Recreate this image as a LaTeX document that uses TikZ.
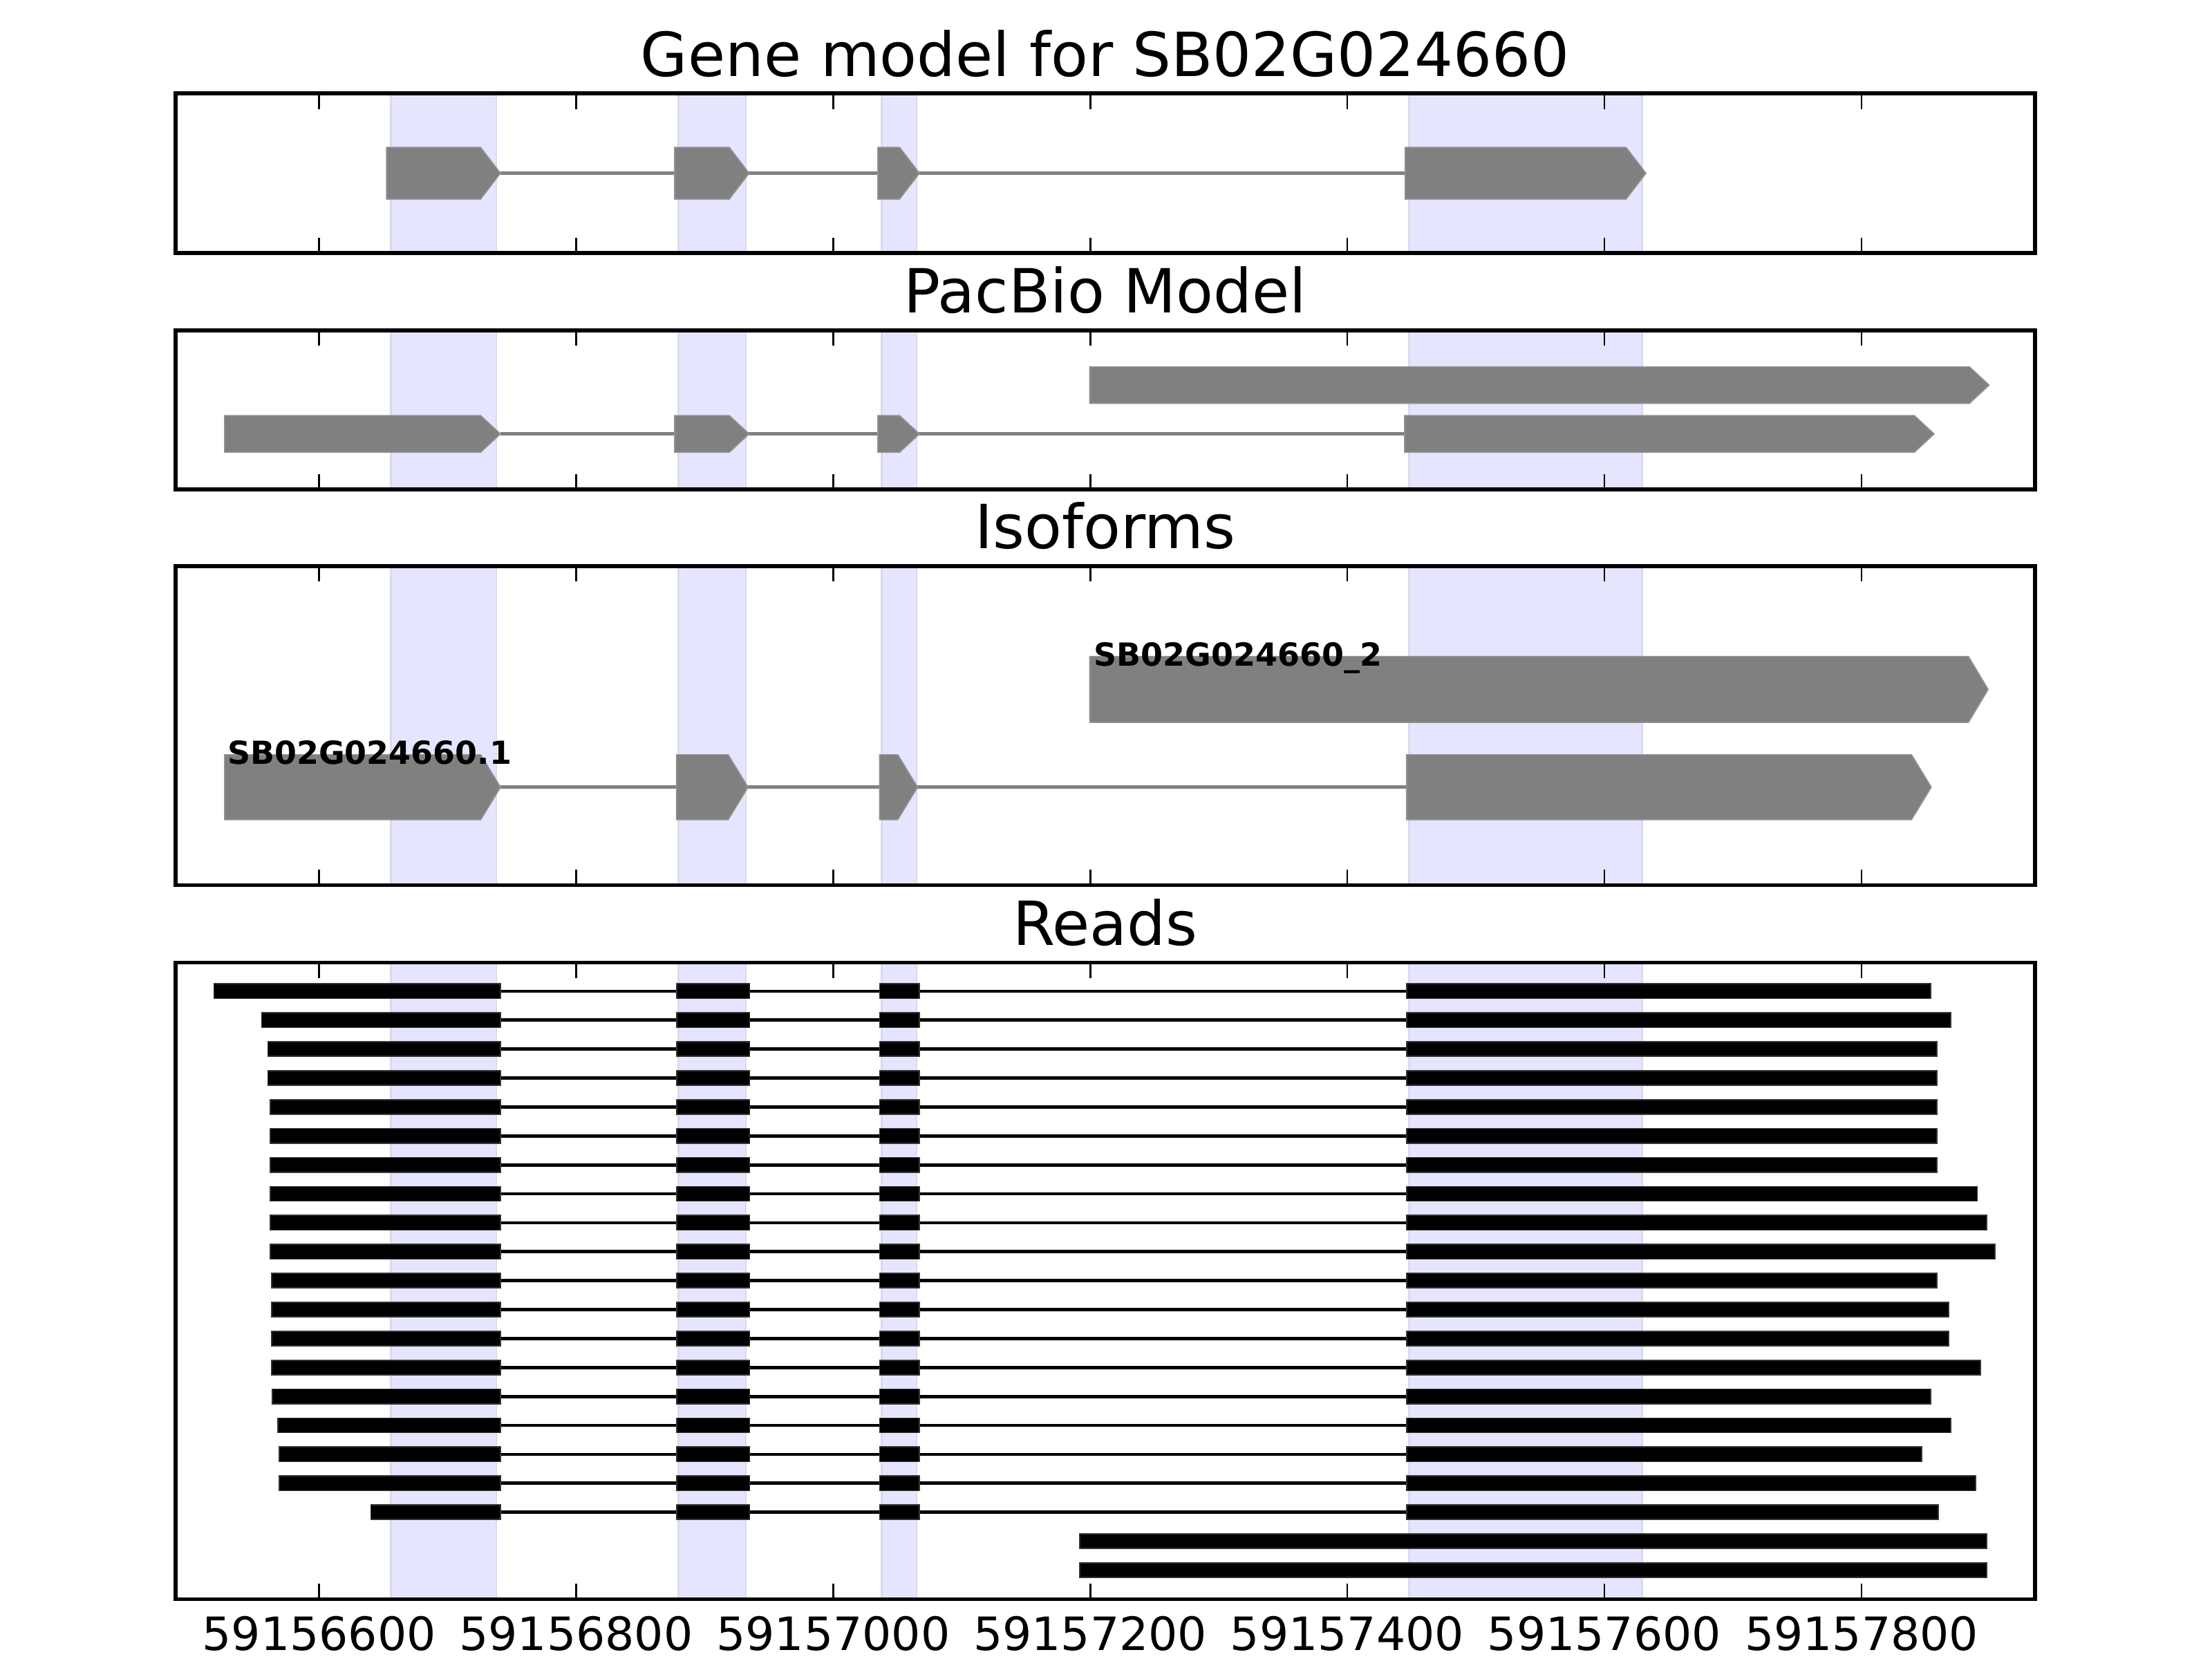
\documentclass[tikz,border=0pt]{standalone}
\usepackage{fontspec}
\setmainfont{DejaVu Sans}
\definecolor{shadefill}{RGB}{229,229,255}
\definecolor{shadeedge}{RGB}{218,218,234}
\definecolor{exongray}{RGB}{128,128,128}
\newcommand\pent[4]{%
  \fill[exonfill] (#1,#3-#4) -- (#2-14,#3-#4) -- (#2,#3) -- (#2-14,#3+#4) -- (#1,#3+#4) -- cycle;}
\newcommand\shadeax[2]{%
  \foreach \a/\b in {277.1/351.8, 481/528.7, 624.8/649.7, 998.7/1163.8}{%
    \fill[shadefill] (\a,#1) rectangle (\b,#2);
    \draw[shadeedgestyle] (\a,#1) -- (\a,#2) (\b,#1) -- (\b,#2);}}
\newcommand\frameax[2]{%
  \foreach \t in {226.2,408.4,590.6,772.8,955.0,1137.3,1319.6}{%
    \draw[tickstyle] (\t,#1) -- (\t,#1+11) (\t,#2) -- (\t,#2-11);}
  \draw[framestyle] (124.5,#1) rectangle (1442.5,#2);}
\begin{document}
\begin{tikzpicture}[x=0.0129592cm,y=-0.0129592cm,
  exonfill/.style={fill=exongray, draw=exongray!85!white, line width=0.3pt},
  shadeedgestyle/.style={draw=shadeedge, line width=0.5pt},
  intronstyle/.style={draw=exongray, line width=0.9pt},
  readline/.style={draw=black, line width=0.85pt},
  readfill/.style={fill=black, draw=black!80, line width=0.3pt},
  framestyle/.style={draw=black, line width=1pt},
  tickstyle/.style={draw=black, line width=0.5pt},
  titlestyle/.style={font=\fontsize{15.9}{19}\selectfont, anchor=base, inner sep=0pt},
  ticklabel/.style={font=\fontsize{12}{14}\selectfont, anchor=base, inner sep=0pt},
  isolabel/.style={font=\fontsize{8.3}{10}\selectfont\bfseries, anchor=base west, inner sep=0pt}]
\useasboundingbox (0,0) rectangle (1568,1176);
\fill[white] (0,0) rectangle (1568,1176);

% ---------- Gene model ----------
\node[titlestyle] (t1) at (783.5,54) {Gene model for SB02G024660};
\shadeax{66.2}{179.4}
\draw[intronstyle] (354.7,122.8) -- (996,122.8);
\pent{274}{354.7}{122.8}{18.3}
\pent{478.2}{531}{122.8}{18.3}
\pent{622.3}{651.7}{122.8}{18.3}
\pent{996}{1166.7}{122.8}{18.3}
\frameax{66.2}{179.4}

% ---------- PacBio Model ----------
\node[titlestyle] (t2) at (783.5,221.9) {PacBio Model};
\shadeax{234.2}{347}
\pent{772.5}{1410}{273}{13}
\draw[intronstyle] (354.7,307.6) -- (995.7,307.6);
\pent{159.2}{354.7}{307.6}{13}
\pent{478.2}{531}{307.6}{13}
\pent{622.3}{651.7}{307.6}{13}
\pent{995.7}{1371}{307.6}{13}
\frameax{234.2}{347}

% ---------- Isoforms ----------
\node[titlestyle] (t3) at (783.5,388.9) {Isoforms};
\shadeax{401.2}{627.4}
\pent{772.5}{1409.3}{488.7}{23.4}
\draw[intronstyle] (354.8,558) -- (997,558);
\pent{159.2}{354.8}{558}{23}
\pent{479.5}{530.2}{558}{23}
\pent{623.5}{650.4}{558}{23}
\pent{997}{1369}{558}{23}
\node[isolabel] (l2) at (774.8,472) {SB02G024660\_2};
\node[isolabel] (l1) at (160.7,541.5) {SB02G024660.1};
\frameax{401.2}{627.4}

% ---------- Reads ----------
\node[titlestyle] (t4) at (783.5,670) {Reads};
\shadeax{682.3}{1133.5}
\foreach \L/\R [count=\i] in {151.6/1368.7, 185.4/1382.6, 189.8/1372.8, 189.8/1372.8,
   191.6/1372.8, 191.6/1372.8, 191.6/1372.8, 191.6/1401.7, 191.6/1408.1, 191.6/1414,
   192.6/1372.8, 192.6/1381.2, 192.6/1381.2, 192.6/1403.7, 193.2/1368.7, 197.1/1382.6,
   198/1362.1, 198/1400.3, 262.9/1373.8}{%
  \pgfmathsetmacro\yy{702.6+20.52*(\i-1)}
  \draw[readline] (\L,\yy) -- (\R,\yy);
  \filldraw[readfill] (\L,\yy-5.2) rectangle (354.7,\yy+5.2);
  \filldraw[readfill] (479.6,\yy-5.2) rectangle (531.4,\yy+5.2);
  \filldraw[readfill] (623.5,\yy-5.2) rectangle (651.7,\yy+5.2);
  \filldraw[readfill] (997.2,\yy-5.2) rectangle (\R,\yy+5.2);
}
\foreach \yy in {1092.5,1113.0}{%
  \filldraw[readfill] (765.5,\yy-5.2) rectangle (1408.1,\yy+5.2);
}
\frameax{682.3}{1133.5}

% ---------- tick labels ----------
\foreach \t/\lab [count=\k] in {226.2/59156600, 408.4/59156800, 590.6/59157000,
   772.8/59157200, 955.0/59157400, 1137.3/59157600, 1319.6/59157800}{%
  \node[ticklabel] (x\k) at (\t,1170) {\lab};
}
\end{tikzpicture}
\end{document}
